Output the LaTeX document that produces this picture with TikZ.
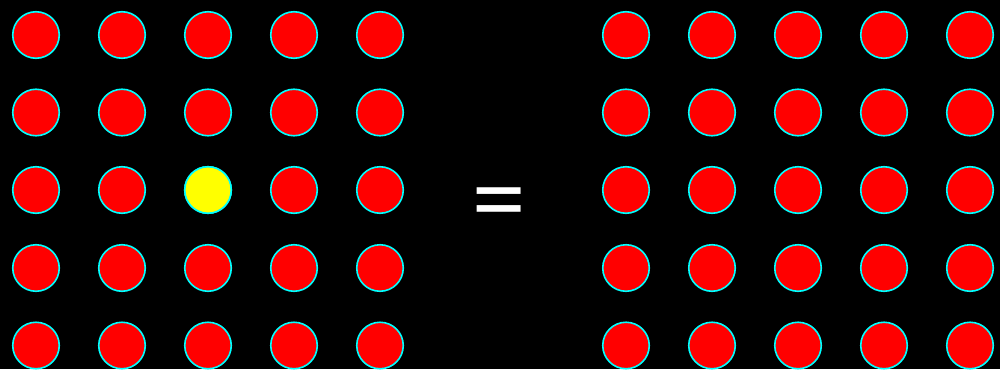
\documentclass[tikz,border=0pt]{standalone}
\usepackage{fontspec}
\newfontfamily\eqfont{TeX Gyre Heros}
\definecolor{ringcol}{RGB}{0,255,255}
\definecolor{dotred}{RGB}{255,0,0}
\definecolor{dotyellow}{RGB}{255,255,0}
\begin{document}
\begin{tikzpicture}[x=1pt,y=-1pt,
  dot/.style={circle,draw=ringcol,line width=1.6pt,fill=dotred,minimum size=46.5pt,inner sep=0pt},
  hot/.style={dot,fill=dotyellow}]
\fill[black] (0,0) rectangle (1000,369);
\useasboundingbox (0,0) rectangle (1000,369);
\foreach \i/\x in {0/36,1/122,2/208,3/294,4/380}{
  \foreach \j/\y in {0/35,1/112.5,2/190,3/268,4/345.5}{
    \node[dot] (L\i\j) at (\x,\y) {};
  }
}
\node[hot] (L22b) at (208,190) {};
\foreach \i/\x in {0/626,1/712,2/798,3/884,4/970}{
  \foreach \j/\y in {0/35,1/112.5,2/190,3/268,4/345.5}{
    \node[dot] (R\i\j) at (\x,\y) {};
  }
}
\node[text=white,font=\eqfont\fontsize{98}{98}\selectfont,inner sep=0pt] (eq) at (499,206.5) {=};
\end{tikzpicture}
\end{document}
